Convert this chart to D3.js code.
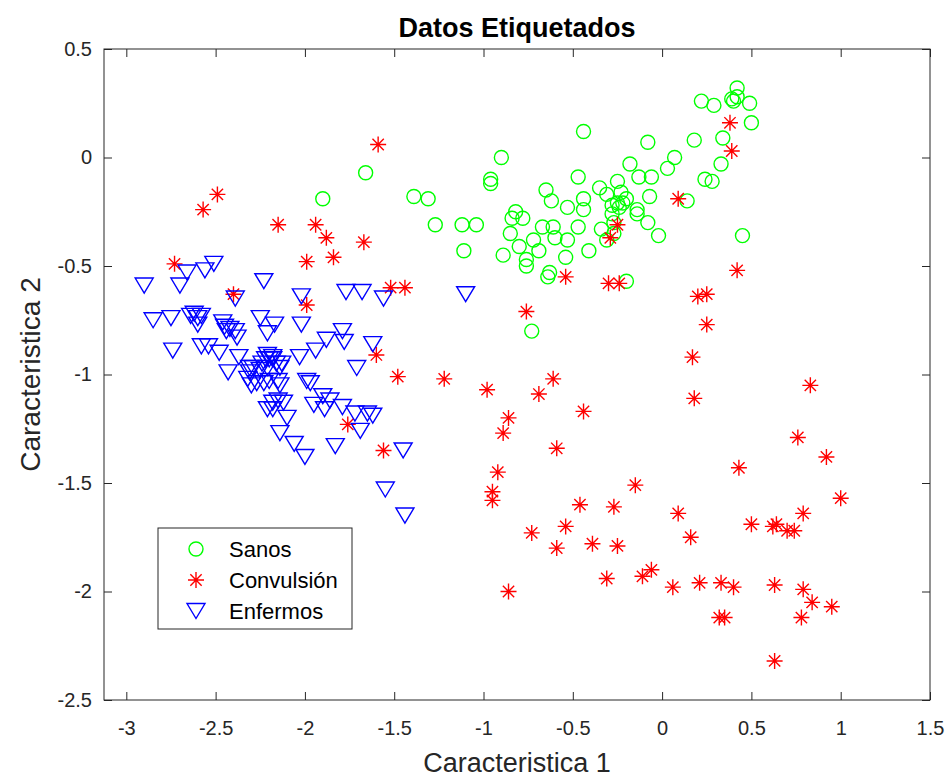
<!DOCTYPE html>
<html><head><meta charset="utf-8">
<script src="https://cdn.jsdelivr.net/npm/d3@7"></script>
<style>html,body{margin:0;padding:0;background:#fff;}svg{display:block;font-family:"Liberation Sans",Arial,Helvetica,sans-serif;}</style>
</head><body>
<svg id="chart" width="949" height="778"></svg>
<script>
const xTicks = [-3, -2.5, -2, -1.5, -1, -0.5, 0, 0.5, 1, 1.5];
const xTickLabels = ["-3", "-2.5", "-2", "-1.5", "-1", "-0.5", "0", "0.5", "1", "1.5"];
const yTicks = [0.5, 0, -0.5, -1, -1.5, -2, -2.5];
const yTickLabels = ["0.5", "0", "-0.5", "-1", "-1.5", "-2", "-2.5"];
const seriesNames = ["Sanos", "Convulsión", "Enfermos"];

const sanos = [[0.42,0.32],[0.22,0.26],[0.29,0.24],[0.39,0.27],[0.40,0.26],[0.42,0.28],[0.49,0.25],[0.50,0.16],[-0.44,0.12],[-0.08,0.07],[0.34,0.09],[0.18,0.08],[-0.90,0.00],[0.07,0.00],[-0.18,-0.03],[0.03,-0.05],[0.33,-0.03],[-0.47,-0.09],[-0.13,-0.09],[-0.06,-0.09],[0.24,-0.10],[0.28,-0.11],[-0.35,-0.14],[-0.31,-0.17],[-0.25,-0.11],[-0.23,-0.16],[-0.20,-0.19],[-0.22,-0.21],[-0.07,-0.18],[-0.44,-0.19],[-0.53,-0.23],[-0.44,-0.24],[-0.28,-0.22],[-0.25,-0.21],[-0.24,-0.23],[-0.14,-0.24],[-0.14,-0.26],[-0.96,-0.10],[-0.96,-0.12],[-1.39,-0.18],[-1.31,-0.19],[-0.65,-0.15],[-0.62,-0.20],[-0.82,-0.25],[-0.84,-0.28],[-0.78,-0.28],[-1.27,-0.31],[-1.12,-0.31],[-1.04,-0.31],[-0.67,-0.32],[-0.61,-0.32],[-0.85,-0.35],[-0.47,-0.32],[-0.34,-0.33],[-0.27,-0.30],[-0.28,-0.26],[-0.08,-0.30],[-0.02,-0.36],[-0.60,-0.37],[-0.53,-0.38],[-0.72,-0.38],[-0.69,-0.43],[-0.80,-0.41],[-1.11,-0.43],[-0.89,-0.45],[-0.41,-0.43],[-0.54,-0.46],[-0.76,-0.47],[-0.76,-0.50],[-0.63,-0.53],[-0.64,-0.55],[-0.31,-0.38],[-0.27,-0.35],[-0.20,-0.57],[-0.73,-0.80],[0.14,-0.20],[0.45,-0.36],[-1.66,-0.07],[-1.90,-0.19]];
const convulsion = [[-2.49,-0.17],[-2.57,-0.24],[-2.15,-0.31],[-1.94,-0.31],[-1.88,-0.37],[-1.99,-0.48],[-1.84,-0.46],[-1.67,-0.39],[-1.59,0.06],[-2.73,-0.49],[-2.40,-0.63],[-1.99,-0.68],[-1.52,-0.60],[-1.44,-0.60],[-1.60,-0.91],[-1.48,-1.01],[-1.76,-1.23],[-1.56,-1.35],[-1.22,-1.02],[-0.98,-1.07],[-0.69,-1.09],[-0.61,-1.02],[-0.44,-1.17],[-0.86,-1.20],[-0.89,-1.27],[-0.59,-1.34],[-0.92,-1.45],[-0.95,-1.54],[-0.95,-1.58],[-0.15,-1.51],[-0.46,-1.60],[-0.27,-1.61],[0.09,-1.64],[1.00,-1.57],[0.79,-1.64],[0.50,-1.69],[0.62,-1.70],[0.64,-1.69],[0.70,-1.72],[0.74,-1.72],[-0.73,-1.73],[-0.54,-1.70],[-0.59,-1.80],[-0.39,-1.78],[-0.25,-1.79],[0.16,-1.75],[-0.86,-2.00],[-0.31,-1.94],[-0.11,-1.93],[-0.06,-1.90],[0.06,-1.98],[0.21,-1.96],[0.33,-1.96],[0.40,-1.98],[0.63,-1.97],[0.79,-1.99],[0.84,-2.05],[0.95,-2.07],[0.78,-2.12],[0.32,-2.12],[0.35,-2.12],[0.63,-2.32],[-0.76,-0.71],[-0.54,-0.55],[-0.29,-0.37],[-0.25,-0.31],[-0.30,-0.58],[-0.24,-0.58],[0.09,-0.19],[0.38,0.16],[0.39,0.03],[0.42,-0.52],[0.20,-0.64],[0.25,-0.63],[0.25,-0.77],[0.17,-0.92],[0.18,-1.11],[0.83,-1.05],[0.76,-1.29],[0.92,-1.38],[0.43,-1.43]];
const enfermos = [[-2.90,-0.59],[-2.70,-0.59],[-2.66,-0.53],[-2.56,-0.52],[-2.51,-0.49],[-2.23,-0.57],[-2.39,-0.65],[-2.85,-0.75],[-2.75,-0.74],[-2.64,-0.73],[-2.62,-0.72],[-2.60,-0.74],[-2.58,-0.73],[-2.60,-0.77],[-2.74,-0.89],[-2.58,-0.87],[-2.54,-0.87],[-2.48,-0.90],[-2.25,-0.74],[-2.21,-0.81],[-2.46,-0.76],[-2.45,-0.78],[-2.44,-0.80],[-2.42,-0.79],[-2.39,-0.80],[-2.38,-0.83],[-2.37,-0.92],[-2.43,-0.99],[-2.31,-0.97],[-2.21,-0.91],[-2.20,-0.93],[-2.17,-0.77],[-2.02,-0.77],[-1.79,-0.80],[-1.78,-0.85],[-1.88,-0.84],[-1.94,-0.89],[-1.62,-0.86],[-2.18,-0.92],[-2.18,-0.93],[-2.16,-0.95],[-2.22,-0.93],[-2.24,-0.95],[-2.21,-0.97],[-2.25,-0.98],[-2.29,-0.97],[-2.31,-0.99],[-2.32,-1.02],[-2.30,-1.05],[-2.27,-1.04],[-2.23,-1.04],[-2.20,-1.03],[-2.15,-1.03],[-2.14,-1.05],[-2.13,-0.95],[-2.14,-0.97],[-2.03,-0.92],[-1.71,-0.97],[-1.97,-1.04],[-1.99,-1.03],[-1.90,-1.10],[-1.86,-1.12],[-1.95,-1.14],[-1.89,-1.16],[-1.79,-1.15],[-1.72,-1.18],[-1.65,-1.18],[-1.62,-1.19],[-1.69,-1.26],[-2.18,-1.13],[-2.15,-1.12],[-2.12,-1.13],[-2.18,-1.16],[-2.21,-1.16],[-2.10,-1.20],[-2.14,-1.27],[-2.06,-1.32],[-2.00,-1.38],[-1.83,-1.33],[-1.45,-1.35],[-1.55,-1.53],[-1.44,-1.65],[-1.10,-0.63],[-1.77,-0.62],[-1.68,-0.62],[-1.56,-0.65],[-2.02,-0.64]];

(function () {
const svg = d3.select("#chart");
const L = 104, R = 930, T = 49, B = 700;
const x = d3.scaleLinear().domain([-3.125, 1.5]).range([L, R]);
const y = d3.scaleLinear().domain([-2.5, 0.5]).range([B, T]);
const axisColor = "#262626";
const tickFont = 20;

const circlePath = d3.symbol().type(d3.symbolCircle).size(Math.PI * 49)();
function starPath(r) {
  const d = r * Math.SQRT1_2;
  return `M${-r},0L${r},0M0,${-r}L0,${r}M${-d},${-d}L${d},${d}M${-d},${d}L${d},${-d}`;
}
function triPath(w, h) { return `M${-w},${-h}L${w},${-h}L0,${h}Z`; }
const markers = [
  {data: sanos, path: circlePath, color: "#00ff00"},
  {data: convulsion, path: starPath(8), color: "#ff0000"},
  {data: enfermos, path: triPath(9, 7.5), color: "#0000ff"}
];

const plot = svg.append("g");
markers.forEach(m => {
  plot.append("g").selectAll("path").data(m.data).join("path")
    .attr("transform", d => `translate(${x(d[0])},${y(d[1])})`)
    .attr("d", m.path)
    .attr("fill", "none").attr("stroke", m.color).attr("stroke-width", 1.4);
});

const tl = 8;
const axBottom = d3.axisBottom(x).tickValues(xTicks).tickSize(-tl).tickPadding(21)
  .tickFormat((d, i) => xTickLabels[i]);
const axTop = d3.axisTop(x).tickValues(xTicks).tickSize(-tl).tickFormat("");
const axLeft = d3.axisLeft(y).tickValues(yTicks).tickSize(-tl).tickPadding(12)
  .tickFormat((d, i) => yTickLabels[i]);
const axRight = d3.axisRight(y).tickValues(yTicks).tickSize(-tl).tickFormat("");

function style(g) {
  g.select(".domain").remove();
  g.selectAll("line").attr("stroke", axisColor).attr("stroke-width", 1);
  g.selectAll("text").attr("fill", axisColor).attr("font-size", tickFont)
    .attr("font-family", '"Liberation Sans",Arial,sans-serif');
}
svg.append("g").attr("transform", `translate(0,${B})`).call(axBottom).call(style);
svg.append("g").attr("transform", `translate(0,${T})`).call(axTop).call(style);
svg.append("g").attr("transform", `translate(${L},0)`).call(axLeft).call(style);
svg.append("g").attr("transform", `translate(${R},0)`).call(axRight).call(style);
svg.append("rect").attr("x", L).attr("y", T).attr("width", R - L).attr("height", B - T)
  .attr("fill", "none").attr("stroke", axisColor).attr("stroke-width", 1);

svg.append("text").attr("x", (L + R) / 2).attr("y", 37).attr("text-anchor", "middle")
  .attr("font-size", 27).attr("font-weight", "bold").attr("fill", "#000").text("Datos Etiquetados");
svg.append("text").attr("x", (L + R) / 2).attr("y", 772).attr("text-anchor", "middle")
  .attr("font-size", 27).attr("fill", axisColor).text("Caracteristica 1");
svg.append("text").attr("transform", `translate(40,${(T + B) / 2}) rotate(-90)`).attr("text-anchor", "middle")
  .attr("font-size", 28).attr("fill", axisColor).text("Caracteristica 2");

const lg = svg.append("g");
lg.append("rect").attr("x", 158).attr("y", 528).attr("width", 194).attr("height", 101)
  .attr("fill", "#fff").attr("stroke", axisColor).attr("stroke-width", 1);
const rows = [549, 580, 611];
markers.forEach((m, i) => {
  lg.append("path").attr("transform", `translate(196,${rows[i]})`).attr("d", m.path)
    .attr("fill", "none").attr("stroke", m.color).attr("stroke-width", 1.4);
  lg.append("text").attr("x", 229).attr("y", rows[i]).attr("dy", "0.35em")
    .attr("font-size", 22).attr("fill", "#000").text(seriesNames[i]);
});
})();
</script>
</body></html>
